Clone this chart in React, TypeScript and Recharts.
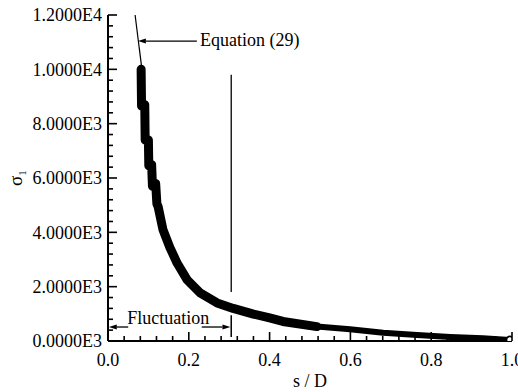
import { LineChart, Line, XAxis, YAxis, ReferenceLine, ReferenceDot, Label } from "recharts";

// measured points of the sigma_1 band (s/D, sigma_1)
const bandS = [0.082, 0.083, 0.091, 0.092, 0.1, 0.101, 0.108, 0.11, 0.118, 0.121, 0.124, 0.136, 0.153, 0.171, 0.196, 0.228, 0.27, 0.31, 0.36, 0.4, 0.433, 0.517];
const bandSigma = [10000, 8650, 8700, 7400, 7400, 6450, 6500, 5700, 5800, 5050, 4950, 4100, 3450, 2870, 2250, 1770, 1400, 1200, 990, 850, 720, 530];
const tailS = [0.517, 0.599, 0.681, 0.765, 0.847, 0.928, 0.995];
const tailSigma = [530, 430, 300, 220, 150, 105, 40];

// Equation (29) line, visible above the band
const eqS = [0.067, 0.084];
const eqSigma = [12000, 10000];

const xMajorTicks = [0, 0.2, 0.4, 0.6, 0.8, 1.0];
const xTickLabels = ["0.0", "0.2", "0.4", "0.6", "0.8", "1.0"];
const yMajorTicks = [0, 2000, 4000, 6000, 8000, 10000, 12000];
const yTickLabels = ["0.0000E3", "2.0000E3", "4.0000E3", "6.0000E3", "8.0000E3", "1.0000E4", "1.2000E4"];

const FONT = "'Liberation Serif', 'Times New Roman', serif";

const toRows = (xs: number[], ys: number[]) => xs.map((s, i) => ({ s, v: ys[i] }));
const bandData = toRows(bandS, bandSigma);
const tailData = toRows(tailS, tailSigma);
const eqData = toRows(eqS, eqSigma);

// minor ticks: 4 between each pair of major ticks
const xTicks: number[] = [];
for (let k = 0; k <= 25; k++) xTicks.push(Math.round(k * 4) / 100);
const yTicks: number[] = [];
for (let k = 0; k <= 30; k++) yTicks.push(k * 400);

const findMajor = (list: number[], v: number) => list.findIndex((m) => Math.abs(m - v) < 1e-6);

const XTick = (props: any) => {
  const x = Number(props.x);
  const y = Number(props.y);
  const idx = findMajor(xMajorTicks, props.payload.value);
  const major = idx >= 0;
  return (
    <g>
      <line x1={x} y1={y} x2={x} y2={y - (major ? 9 : 5)} stroke="#000" strokeWidth={1.6} />
      {major && (
        <text x={x} y={y + 19} dy="0.35em" textAnchor="middle" fontSize={18} fontFamily={FONT} fill="#000">
          {xTickLabels[idx]}
        </text>
      )}
    </g>
  );
};

const YTick = (props: any) => {
  const x = Number(props.x);
  const y = Number(props.y);
  const idx = findMajor(yMajorTicks, props.payload.value);
  const major = idx >= 0;
  return (
    <g>
      <line x1={x} y1={y} x2={x + (major ? 9 : 5)} y2={y} stroke="#000" strokeWidth={1.6} />
      {major && (
        <text x={x - 6} y={y} dy="0.35em" textAnchor="end" fontSize={18} fontFamily={FONT} fill="#000">
          {yTickLabels[idx]}
        </text>
      )}
    </g>
  );
};

// line with an arrow head at (x2, y2)
const Arrow = (props: any) => {
  const { x1, y1, x2, y2 } = props;
  const dx = x2 - x1;
  const dy = y2 - y1;
  const len = Math.sqrt(dx * dx + dy * dy) || 1;
  const ux = dx / len;
  const uy = dy / len;
  const bx = x2 - ux * 8;
  const by = y2 - uy * 8;
  const pts = `${x2},${y2} ${bx - uy * 2.5},${by + ux * 2.5} ${bx + uy * 2.5},${by - ux * 2.5}`;
  return (
    <g>
      <line x1={x1} y1={y1} x2={bx} y2={by} stroke="#000" strokeWidth={1.3} />
      <polygon points={pts} fill="#000" />
    </g>
  );
};

const EndDot = (props: any) => {
  const { cx, cy, index } = props;
  if (index !== tailData.length - 1) return <g key={index} />;
  return <circle key={index} cx={cx} cy={cy} r={3.5} fill="#fff" stroke="#000" strokeWidth={1.8} />;
};

const noShape = () => <g />;

export default function App() {
  return (
    <div style={{ position: "absolute", left: 0, top: 0, width: 518, height: 392, background: "#fff" }}>
      <LineChart width={518} height={392} margin={{ top: 15, right: 6, bottom: 0, left: 0 }}>
        <XAxis
          type="number"
          dataKey="s"
          domain={[0, 1]}
          ticks={xTicks}
          interval={0}
          tick={XTick}
          tickLine={false}
          tickSize={0}
          tickMargin={0}
          height={51}
          axisLine={{ stroke: "#000", strokeWidth: 2 }}
          allowDataOverflow
        >
          <Label
            content={(p: any) => {
              const vb = p.viewBox;
              return (
                <text x={vb.x + vb.width / 2} y={vb.y + vb.height - 5} textAnchor="middle" fontSize={18} fontFamily={FONT} fill="#000">
                  s / D
                </text>
              );
            }}
          />
        </XAxis>
        <YAxis
          type="number"
          dataKey="v"
          domain={[0, 12000]}
          ticks={yTicks}
          interval={0}
          tick={YTick}
          tickLine={false}
          tickSize={0}
          tickMargin={0}
          width={108}
          axisLine={{ stroke: "#000", strokeWidth: 2 }}
          allowDataOverflow
        >
          <Label
            content={(p: any) => {
              const vb = p.viewBox;
              const cx = 15;
              const cy = vb.y + vb.height / 2;
              return (
                <text x={cx} y={cy} transform={`rotate(-90, ${cx}, ${cy})`} textAnchor="middle" dy="0.35em" fontSize={19} fontFamily={FONT} fill="#000">
                  σ<tspan fontSize={11} dy={4}>1</tspan>
                </text>
              );
            }}
          />
        </YAxis>

        <Line data={eqData} dataKey="v" stroke="#000" strokeWidth={1.2} dot={false} isAnimationActive={false} />
        <Line data={bandData} dataKey="v" stroke="#000" strokeWidth={9} strokeLinejoin="round" strokeLinecap="round" dot={false} isAnimationActive={false} />
        <Line data={tailData} dataKey="v" stroke="#000" strokeWidth={6} strokeLinejoin="round" strokeLinecap="round" dot={<EndDot />} isAnimationActive={false} />

        <ReferenceLine segment={[{ x: 0.305, y: 1800 }, { x: 0.305, y: 9800 }]} stroke="#000" strokeWidth={1.3} />
        <ReferenceLine segment={[{ x: 0.305, y: 150 }, { x: 0.305, y: 950 }]} stroke="#000" strokeWidth={1.5} />
        <ReferenceLine segment={[{ x: 0.22, y: 11040 }, { x: 0.074, y: 11040 }]} shape={<Arrow />} />
        <ReferenceLine segment={[{ x: 0.05, y: 515 }, { x: 0.002, y: 515 }]} shape={<Arrow />} />
        <ReferenceLine segment={[{ x: 0.232, y: 515 }, { x: 0.303, y: 515 }]} shape={<Arrow />} />

        <ReferenceDot x={0.351} y={11110} shape={noShape} label={{ value: "Equation (29)", position: "center", fontSize: 18, fontFamily: FONT, fill: "#000" }} />
        <ReferenceDot x={0.149} y={850} shape={noShape} label={{ value: "Fluctuation", position: "center", fontSize: 18, fontFamily: FONT, fill: "#000" }} />
      </LineChart>
    </div>
  );
}
